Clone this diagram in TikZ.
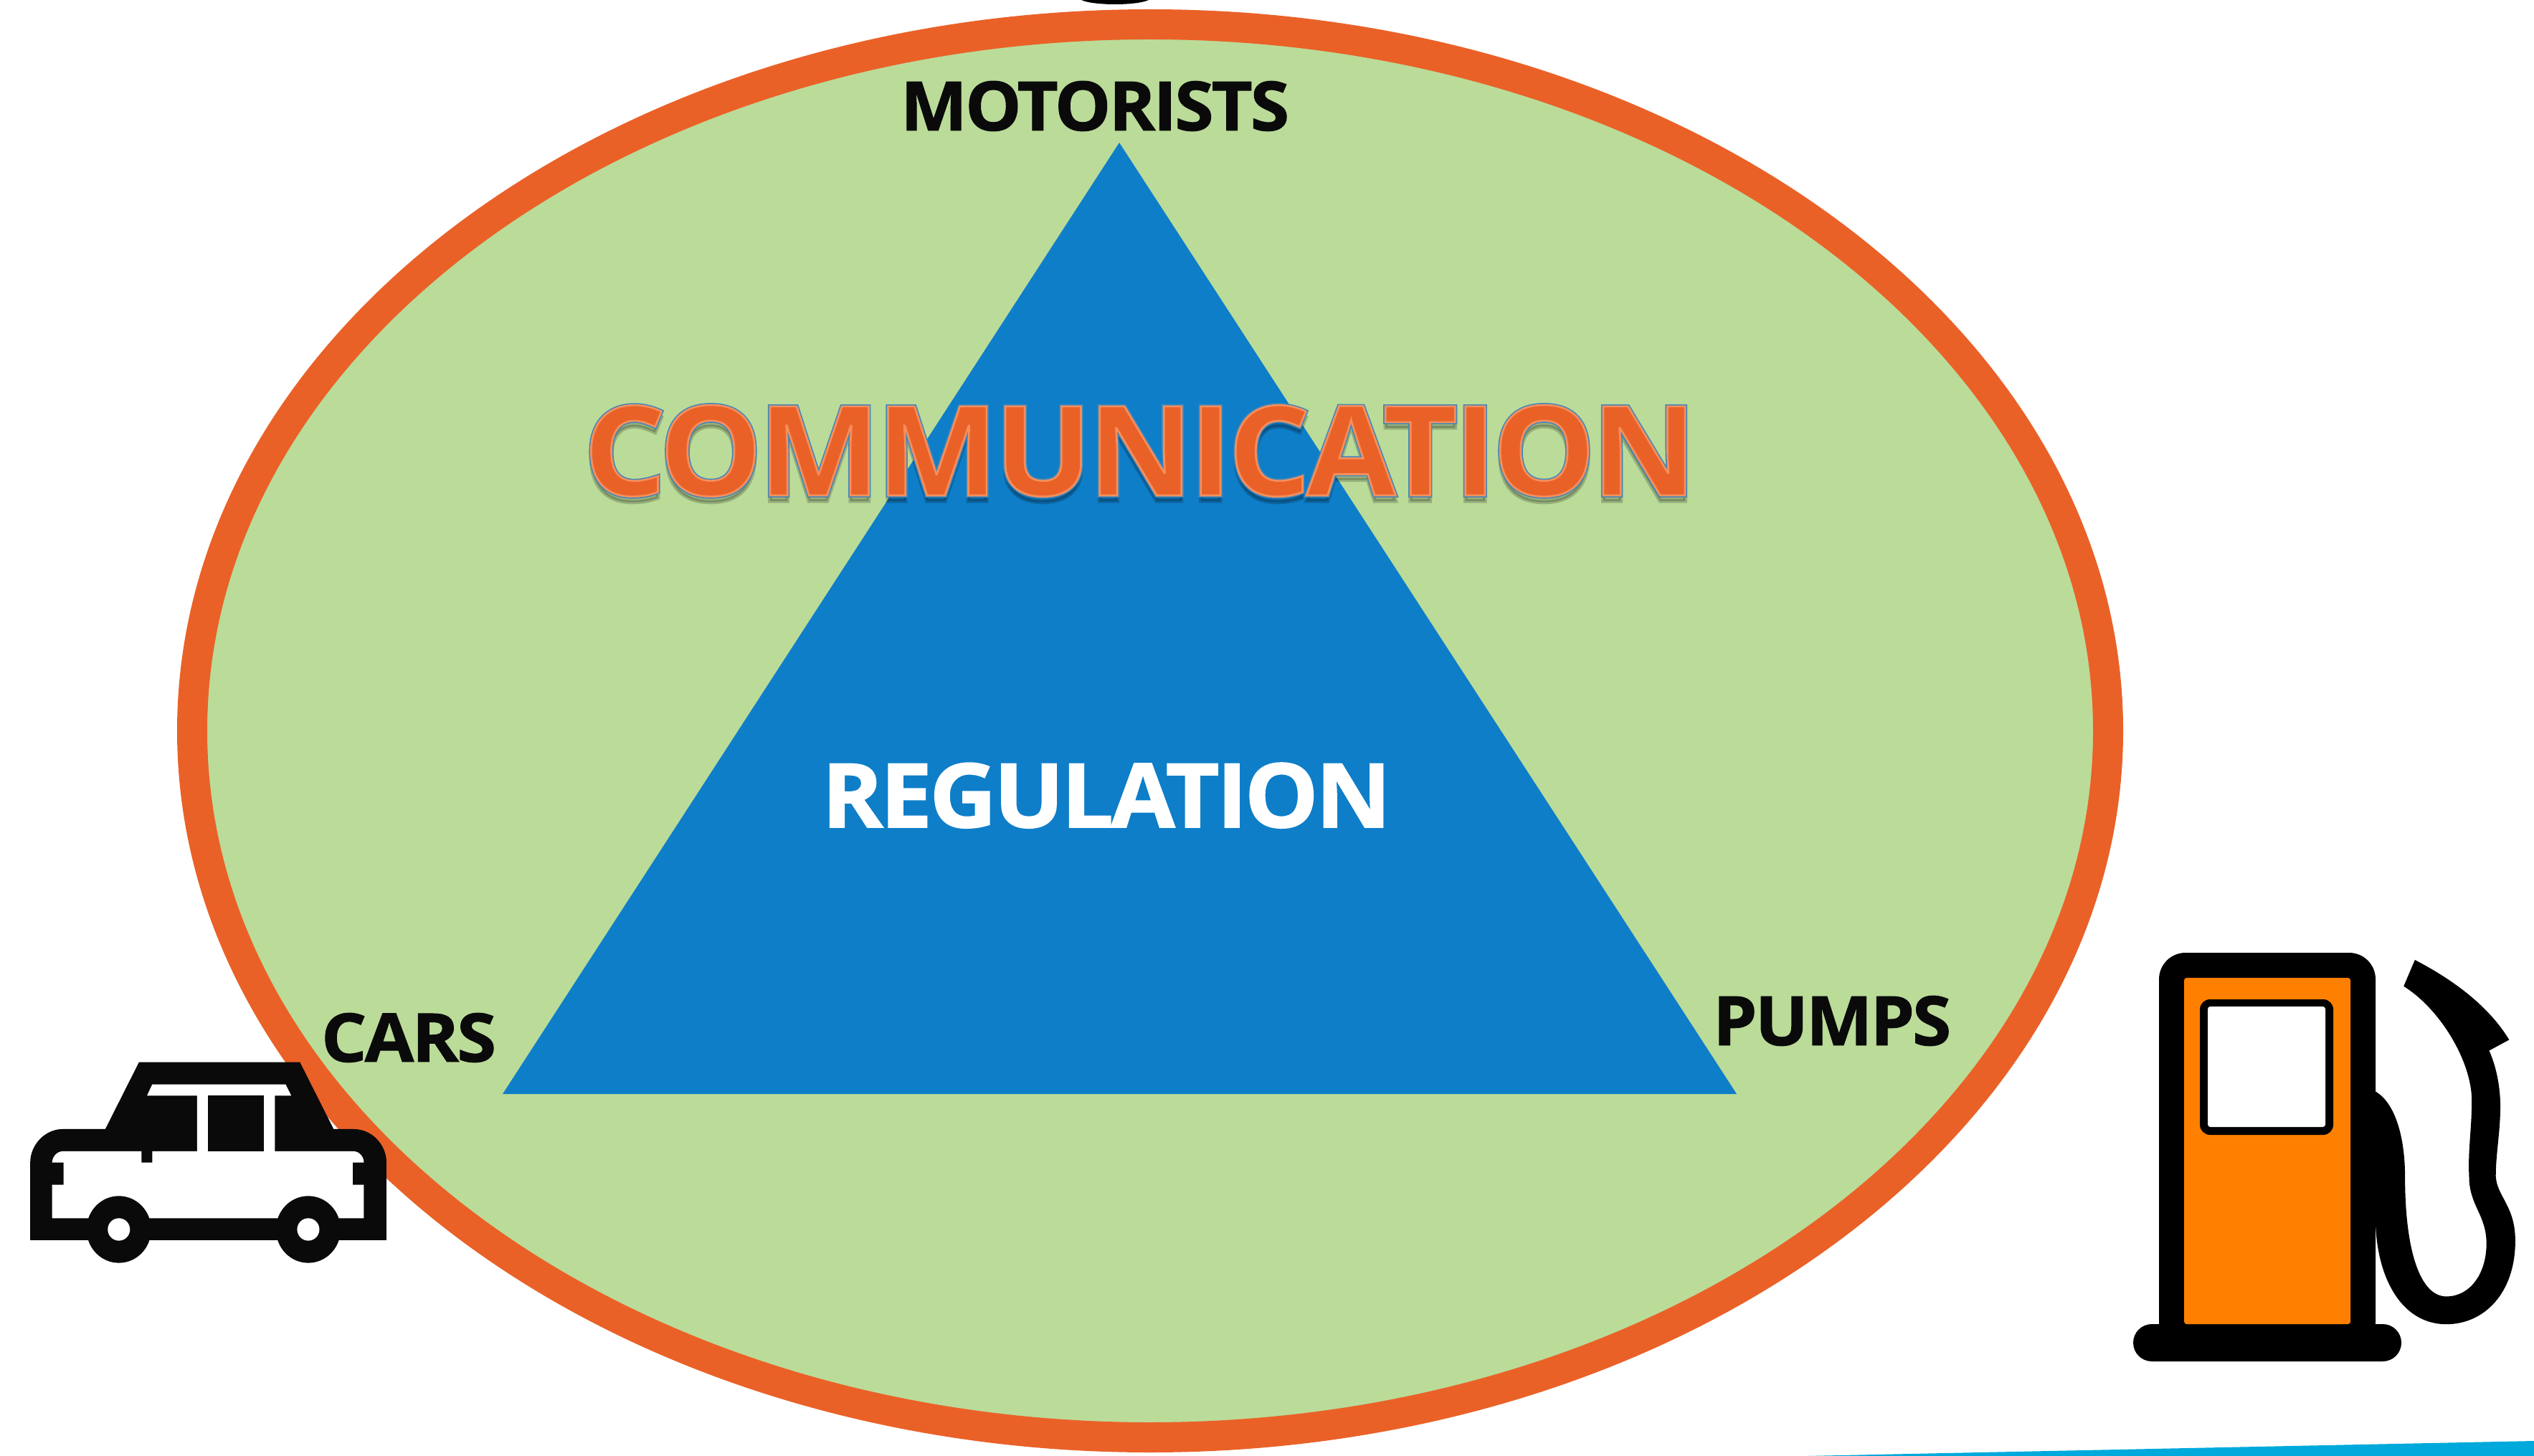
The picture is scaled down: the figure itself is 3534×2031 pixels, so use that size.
\documentclass[tikz,border=0pt]{standalone}
\usepackage{fontspec}
\usepackage{graphicx}
\setmainfont{Open Sans}
\definecolor{ringorange}{HTML}{EA6128}
\definecolor{meadow}{HTML}{BBDB99}
\definecolor{triblue}{HTML}{0E7EC8}
\definecolor{inkblack}{HTML}{0A0A0A}
\definecolor{pumporange}{HTML}{FF8000}
\definecolor{wedgeblue}{HTML}{00A9DC}
\newlength{\pxu}\setlength{\pxu}{0.01cm}
\newcommand{\fitlabel}[3]{\resizebox{#2\pxu}{#3\pxu}{\fontsize{30}{30}\selectfont\bfseries\addfontfeature{LetterSpace=-3}#1}}
% fill and stroke of the glyphs; #4 stroke width in pt, #5 stroke colour as r g b
\newcommand{\strokedlabel}[5]{\special{pdf:code q 2 Tr #4 w #5 RG}\fitlabel{#1}{#2}{#3}\special{pdf:code Q}}
\newcommand{\shadowlayer}[3]{\rlap{\raisebox{-8\pxu}{\special{pdf:code q}\pgfsetfillopacity{.2}\pgfsetstrokeopacity{.2}{\color{black}\strokedlabel{#1}{#2}{#3}{0.9}{0 0 0}}\special{pdf:code Q}}}}
\newcommand{\outlinelayer}[3]{\rlap{{\color{triblue}\strokedlabel{#1}{#2}{#3}{1.0}{0.27 0.53 0.72}}}}
\tikzset{
  lab/.style={inner sep=0pt,outer sep=0pt,anchor=base,text=inkblack},
  mark black/.style={fill=black,draw=none},
  car black/.style={fill=inkblack,draw=none},
}
\begin{document}
\begin{tikzpicture}[x=0.01cm,y=-0.01cm]
\useasboundingbox (0,0) rectangle (3534,2031);
\fill[white] (0,0) rectangle (3534,2031);
% fragments at the edges
\path[mark black] (1508,0) .. controls (1525,8) and (1585,8) .. (1602,0) -- cycle;
\path[fill=wedgeblue] (2519,2031) -- (3534,2010) -- (3534,2031) -- cycle;
% ellipse and triangle
\path[fill=meadow,draw=ringorange,line width=42*0.01cm] (1604,1019.5) ellipse [x radius=1336,y radius=985.5];
\path[fill=triblue] (1561,199) -- (2422,1526) -- (701,1526) -- cycle;
% labels
\node[lab] (motorists) at (1527,182) {\strokedlabel{MOTORISTS}{542}{69}{0.3}{0.04 0.04 0.04}};
\node[lab] (cars) at (570,1481) {\strokedlabel{CARS}{244}{68}{0.3}{0.04 0.04 0.04}};
\node[lab] (pumps) at (2555,1458) {\strokedlabel{PUMPS}{332}{69}{0.3}{0.04 0.04 0.04}};
\node[lab,text=white] (regulation) at (1543,1154) {\strokedlabel{REGULATION}{794}{90}{0.4}{1 1 1}};
\node[lab,text=ringorange] (communication) at (1590,691) {\shadowlayer{COMMUNICATION}{1552}{126}\outlinelayer{COMMUNICATION}{1552}{126}\strokedlabel{COMMUNICATION}{1552}{126}{0.45}{0.96 0.56 0.36}};
% car
\begin{scope}[shift={(0,1350)},xscale=0.4847,yscale=0.3333]
\path[car black] (87,1140) -- (87,815) .. controls (87,740) and (130,675) .. (180,675) -- (303,675) -- (400,395) -- (863,395) -- (960,675) -- (1018,675) .. controls (1070,675) and (1112,740) .. (1112,815) -- (1112,1140) -- cycle;
\path[fill=white] (150,1048) -- (150,908) -- (183,908) -- (183,815) -- (150,815) .. controls (150,790) and (165,768) .. (180,768) -- (407,768) -- (407,815) -- (438,815) -- (438,768) -- (567,768) -- (567,535) -- (423,535) -- (438,488) -- (822,488) -- (838,535) -- (791,535) -- (791,768) -- (1018,768) .. controls (1033,768) and (1047,790) .. (1047,815) -- (1015,815) -- (1015,908) -- (1047,908) -- (1047,1048) -- cycle;
\path[car black] (598,535) rectangle (759,768);
\path[car black] (342,1095) ellipse [x radius=93,y radius=140];
\path[car black] (887,1095) ellipse [x radius=93,y radius=140];
\path[fill=white] (342,1095) ellipse [x radius=32,y radius=47];
\path[fill=white] (887,1095) ellipse [x radius=32,y radius=47];
\end{scope}
% pump
\path[mark black,rounded corners=10.5pt] (3011,1329) rectangle (3313,1880);
\path[mark black,rounded corners=7.4pt] (2975,1847) rectangle (3349,1899);
\path[fill=pumporange,rounded corners=1pt] (3046,1364) rectangle (3278,1847);
\path[mark black,rounded corners=4pt] (3068,1394) rectangle (3254,1583);
\path[fill=white,rounded corners=1pt] (3079,1404) rectangle (3243,1572);
\begin{scope}[shift={(2950,1290)},xscale=0.3724,yscale=0.4082]
\path[mark black] (975,570) .. controls (1050,610) and (1085,730) .. (1085,860)
 .. controls (1085,1110) and (1140,1270) .. (1240,1270)
 .. controls (1330,1270) and (1390,1190) .. (1390,1090)
 .. controls (1390,990) and (1325,960) .. (1325,860)
 .. controls (1320,770) and (1335,700) .. (1335,600)
 .. controls (1335,470) and (1220,290) .. (1080,210)
 -- (1122,120)
 .. controls (1270,190) and (1400,280) .. (1475,393)
 -- (1400,430)
 .. controls (1425,480) and (1442,550) .. (1442,620)
 .. controls (1442,710) and (1425,780) .. (1425,860)
 .. controls (1430,930) and (1498,960) .. (1498,1080)
 .. controls (1498,1260) and (1380,1365) .. (1240,1365)
 .. controls (1080,1365) and (985,1220) .. (975,1030)
 -- cycle;
\end{scope}
\end{tikzpicture}
\end{document}
